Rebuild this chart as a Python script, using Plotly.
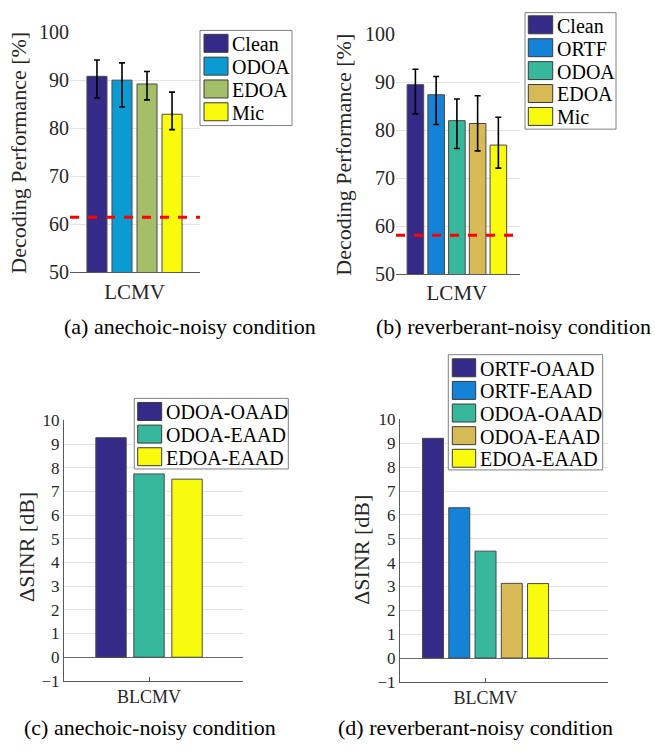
import plotly.graph_objects as go

# ---------------- data ----------------
cat_top = ["LCMV"]
cat_bot = ["BLCMV"]

a_labels = ["Clean", "ODOA", "EDOA", "Mic"]
a_values = [90.8, 90.0, 89.2, 82.9]
a_upper = [94.2, 93.6, 91.8, 87.5]
a_lower = [86.3, 84.4, 85.9, 79.7]
a_chance = 61.5

b_labels = ["Clean", "ORTF", "ODOA", "EDOA", "Mic"]
b_values = [89.5, 87.4, 82.0, 81.4, 76.9]
b_upper = [92.7, 91.2, 86.5, 87.2, 82.7]
b_lower = [83.4, 81.2, 76.2, 75.7, 72.1]
b_chance = 58.1

c_labels = ["ODOA-OAAD", "ODOA-EAAD", "EDOA-EAAD"]
c_values = [9.27, 7.74, 7.52]

d_labels = ["ORTF-OAAD", "ORTF-EAAD", "ODOA-OAAD", "ODOA-EAAD", "EDOA-EAAD"]
d_values = [9.21, 6.30, 4.48, 3.13, 3.12]

top_ticks = [50, 60, 70, 80, 90, 100]
bot_ticks = [-1, 0, 1, 2, 3, 4, 5, 6, 7, 8, 9, 10]

top_ytitle = "Decoding Performance [%]"
bot_ytitle = "ΔSINR [dB]"
captions = ["(a) anechoic-noisy condition", "(b) reverberant-noisy condition",
            "(c) anechoic-noisy condition", "(d) reverberant-noisy condition"]

# ---------------- styles ----------------
a_colors = ["#352A87", "#0A9BD2", "#A5BE6A", "#F9FB0E"]
b_colors = ["#352A87", "#1482D6", "#37B89D", "#D7BA55", "#F9FB0E"]
c_colors = ["#352A87", "#37B89D", "#F9FB0E"]
d_colors = ["#352A87", "#1482D6", "#37B89D", "#D7BA55", "#F9FB0E"]

FONT = "Liberation Serif, Times New Roman, serif"
TXT = "#262626"
W, H = 655, 755


def px_x(p):
    return p / W


def px_y(p):
    return 1 - p / H


fig = go.Figure()


def add_bars(labels, values, colors, xa, ya, upper=None, lower=None, cat=None):
    for i, (lab, v, col) in enumerate(zip(labels, values, colors)):
        err = None
        if upper is not None:
            err = dict(type="data", symmetric=False,
                       array=[upper[i] - v], arrayminus=[v - lower[i]],
                       color="black", thickness=1.6, width=3)
        fig.add_trace(go.Bar(
            x=cat, y=[v], name=lab,
            marker=dict(color=col, line=dict(color="#4a4a4a", width=1)),
            error_y=err, xaxis=xa, yaxis=ya, showlegend=False, offsetgroup=str(i),
        ))


add_bars(a_labels, a_values, a_colors, "x", "y", a_upper, a_lower, cat_top)
add_bars(b_labels, b_values, b_colors, "x2", "y2", b_upper, b_lower, cat_top)
add_bars(c_labels, c_values, c_colors, "x3", "y3", cat=cat_bot)
add_bars(d_labels, d_values, d_colors, "x4", "y4", cat=cat_bot)

# chance-level lines
for xa, ya, val in [("x", "y", a_chance), ("x2", "y2", b_chance)]:
    fig.add_shape(type="line", xref=f"{xa} domain", yref=ya, x0=0, x1=1, y0=val, y1=val,
                  line=dict(color="#FF0000", width=3, dash="dash"))

grid = "#E3E3E3"
axis_col = "#5a5a5a"


def xax(dom, rng, anchor, size, ticks):
    return dict(type="category", showgrid=False, ticks=ticks, ticklen=4, tickcolor=axis_col,
                showline=True, linecolor=axis_col, domain=dom, range=rng, anchor=anchor,
                tickfont=dict(family=FONT, size=size, color=TXT), fixedrange=True)


def yax(dom, rng, tv, anchor, size, bottom):
    d = dict(domain=dom, range=rng, tickvals=tv, anchor=anchor, showgrid=True, gridcolor=grid,
             tickfont=dict(family=FONT, size=size, color=TXT), ticks="", fixedrange=True)
    if bottom:
        d.update(zeroline=True, zerolinecolor="#6a6a6a", zerolinewidth=1,
                 showline=True, linecolor=axis_col)
    else:
        d.update(zeroline=False, showline=False)
    return d


fig.update_layout(
    width=W, height=H, margin=dict(l=0, r=0, t=0, b=0),
    paper_bgcolor="white", plot_bgcolor="white",
    barmode="group", bargap=0.3, bargroupgap=0.2,
    font=dict(family=FONT, color=TXT),
    showlegend=False, hovermode=False,
    xaxis=xax([px_x(70), px_x(200)], [-0.451, 0.458], "y", 21, ""),
    yaxis=yax([px_y(269.3), px_y(21.7)], [50, 100], top_ticks, "x", 20, False),
    xaxis2=xax([px_x(396), px_x(520)], [-0.411, 0.426], "y2", 21, ""),
    yaxis2=yax([px_y(271), px_y(24)], [50, 100], top_ticks, "x2", 20, False),
    xaxis3=xax([px_x(64), px_x(243)], [-0.522, 0.577], "y3", 18, "inside"),
    yaxis3=yax([px_y(690), px_y(421.7)], [-1, 10], bot_ticks, "x3", 17, True),
    xaxis4=xax([px_x(400), px_x(608)], [-0.456, 0.653], "y4", 18, "inside"),
    yaxis4=yax([px_y(691), px_y(420.7)], [-1, 10], bot_ticks, "x4", 17, True),
)

# y-axis titles
for txt, (cx, cy) in zip([top_ytitle, top_ytitle, bot_ytitle, bot_ytitle],
                         [(19, 146), (344, 148), (27, 552), (362, 555)]):
    fig.add_annotation(text=txt, x=px_x(cx), y=px_y(cy), xref="paper", yref="paper",
                       showarrow=False, textangle=-90, font=dict(family=FONT, size=22, color=TXT),
                       xanchor="center", yanchor="middle")

# legends (box, patch x-range, first entry centre, pitch)
legend_specs = [
    (a_labels, a_colors, (200, 20, 292, 118), (204, 228), 33.3, 23.5),
    (b_labels, b_colors, (525, 1.7, 616, 121.7), (528.3, 552.7), 14.2, 23.6),
    (c_labels, c_colors, (134.3, 399, 288.3, 471.7), (137.7, 161.7), 412.5, 23.3),
    (d_labels, d_colors, (448.3, 354, 602.7, 472.7), (452.3, 475.7), 367.5, 23.3),
]
PATCH_H = 18.5
for labels, colors, box, (px0, px1), first, pitch in legend_specs:
    bx0, by0, bx1, by1 = box
    fig.add_shape(type="rect", xref="paper", yref="paper", layer="above",
                  x0=px_x(bx0), x1=px_x(bx1), y0=px_y(by1), y1=px_y(by0),
                  line=dict(color="#808080", width=1), fillcolor="white")
    for k, (lab, col) in enumerate(zip(labels, colors)):
        cy = first + k * pitch
        fig.add_shape(type="rect", xref="paper", yref="paper", layer="above",
                      x0=px_x(px0), x1=px_x(px1), y0=px_y(cy + PATCH_H / 2), y1=px_y(cy - PATCH_H / 2),
                      line=dict(color="#3a3a3a", width=1), fillcolor=col)
        fig.add_annotation(text=lab, x=px_x(px1 + 2), y=px_y(cy + 1), xref="paper", yref="paper",
                           showarrow=False, font=dict(family=FONT, size=20, color="black"),
                           xanchor="left", yanchor="middle")

# captions
cap_pos = [(190, 325), (513, 325), (150, 738), (475, 738)]
for txt, (cx, cy) in zip(captions, cap_pos):
    fig.add_annotation(text=txt, x=px_x(cx), y=px_y(cy), xref="paper", yref="paper",
                       showarrow=False, font=dict(family=FONT, size=22, color="black"),
                       xanchor="center", yanchor="middle")

fig.write_html(
    "out.html",
    config={"displayModeBar": False, "staticPlot": True},
    post_script="document.body.style.margin='0';document.body.style.padding='0';"
                "document.body.style.overflow='hidden';",
)
